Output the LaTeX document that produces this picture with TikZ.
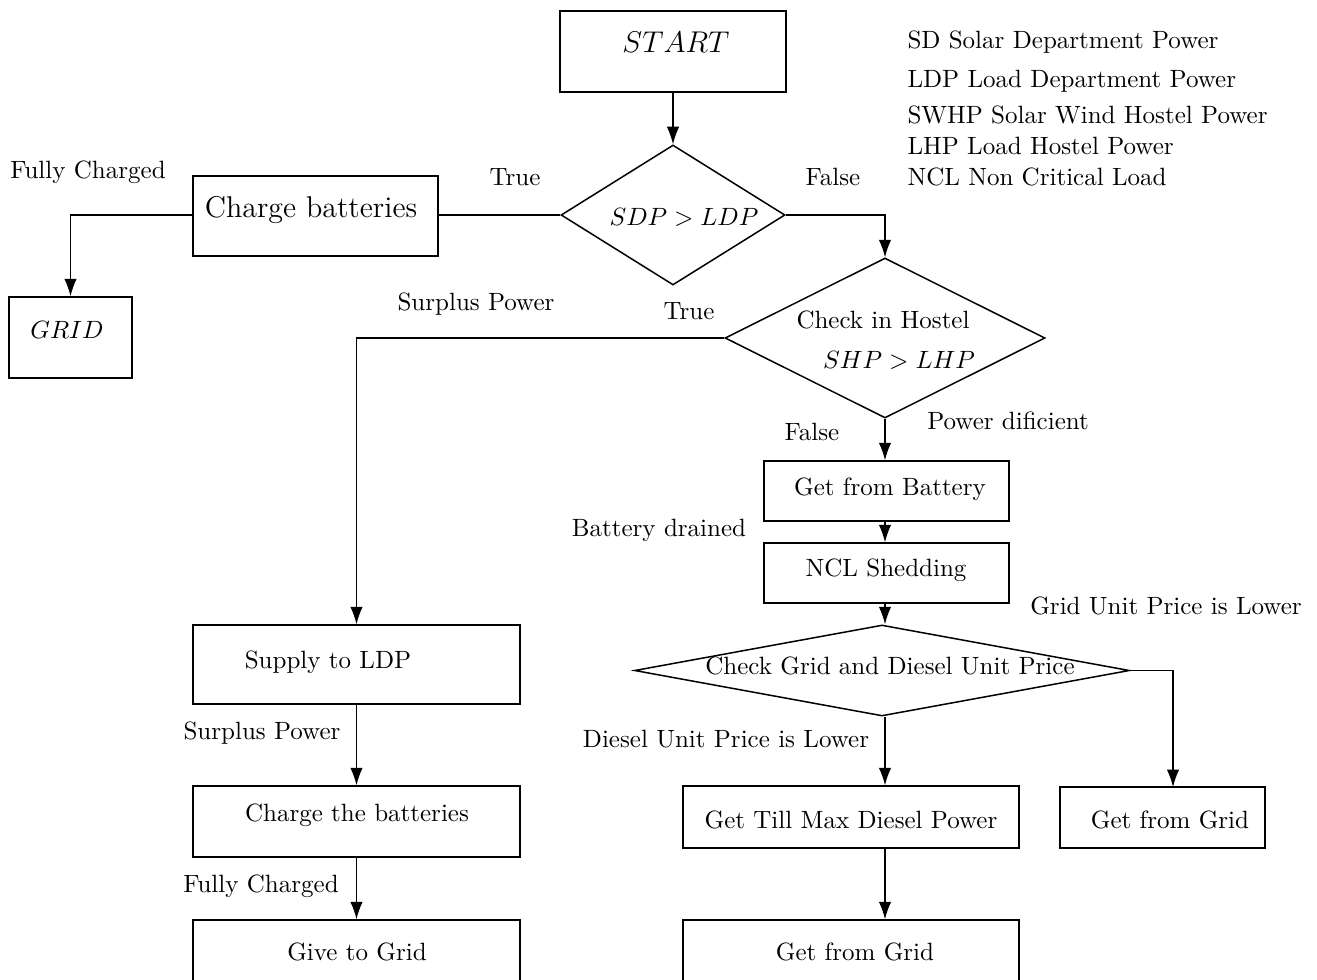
\documentclass[tikz,border=0pt]{standalone}
\usetikzlibrary{shapes.geometric,arrows.meta,calc}
\begin{document}
\begin{tikzpicture}[x=0.4pt,y=-0.4pt,
  box/.style={draw,line width=0.6pt,rectangle,inner sep=0pt},
  dia/.style={draw,line width=0.6pt,diamond,inner sep=0pt},
  conn/.style={line width=0.5pt},
  arr/.style={line width=0.5pt,-{Latex[length=7pt,width=5pt]}},
  lbl/.style={inner sep=0pt,font=\normalsize}]
\useasboundingbox (0,0) rectangle (1317,979);
% boxes
\node[box,minimum width=90.4pt,minimum height=32.4pt] (start) at (673,51.5) {};
\node[dia,minimum width=89.6pt,minimum height=56pt] (d1) at (673,215) {};
\node[box,minimum width=98pt,minimum height=32pt] (cb) at (315.5,216) {};
\node[box,minimum width=49.2pt,minimum height=32.4pt] (grid) at (70.5,337.5) {};
\node[dia,minimum width=128pt,minimum height=64pt] (d2) at (885,338) {};
\node[box,minimum width=130.8pt,minimum height=31.6pt] (supply) at (356.5,664.5) {};
\node[box,minimum width=130.8pt,minimum height=28.4pt] (chg) at (356.5,821.5) {};
\node[box,minimum width=130.8pt,minimum height=28pt] (give) at (356.5,955) {};
\node[box,minimum width=98pt,minimum height=24pt] (bat) at (886.5,491) {};
\node[box,minimum width=98pt,minimum height=24pt] (ncl) at (886.5,573) {};
\node[dia,minimum width=198pt,minimum height=36.4pt] (d3) at (882,670.5) {};
\node[box,minimum width=134.4pt,minimum height=24.8pt] (till) at (851,817) {};
\node[box,minimum width=82pt,minimum height=24.4pt] (gridR) at (1162.5,817.5) {};
\node[box,minimum width=134.4pt,minimum height=28pt] (gridB) at (851,955) {};
\coordinate (gRtop) at (1173,787);
% texts inside shapes
\node[lbl,font=\fontsize{13}{15}\selectfont] (tstart) at (676,42) {$START$};
\node[lbl] (td1) at (684,217) {$SDP>LDP$};
\node[lbl,font=\large] (tcb) at (311,210) {Charge batteries};
\node[lbl] (tgrid) at (67,330) {$GRID$};
\node[lbl] (td2a) at (883,320) {Check in Hostel};
\node[lbl] (td2b) at (899,360) {$SHP>LHP$};
\node[lbl] (tsup) at (328,662) {Supply to LDP};
\node[lbl] (tchg) at (357,815) {Charge the batteries};
\node[lbl] (tgive) at (357,952) {Give to Grid};
\node[lbl] (tbat) at (890,489) {Get from Battery};
\node[lbl] (tncl) at (886,570) {NCL Shedding};
\node[lbl] (td3) at (890,666) {Check Grid and Diesel Unit Price};
\node[lbl] (ttill) at (851,820) {Get Till Max Diesel Power};
\node[lbl] (tgr) at (1170,820) {Get from Grid};
\node[lbl] (tgb) at (855,952) {Get from Grid};
% labels
\node[lbl] (l1) at (88,172) {Fully Charged};
\node[lbl] (l2) at (515,177) {True};
\node[lbl] (l3) at (833,177) {False};
\node[lbl] (l4) at (689,311) {True};
\node[lbl] (l5) at (476,304) {Surplus Power};
\node[lbl] (l6) at (812,432) {False};
\node[lbl] (l7) at (1008,421) {Power dificient};
\node[lbl] (l8) at (659,530) {Battery drained};
\node[lbl] (l9) at (1166,606) {Grid Unit Price is Lower};
\node[lbl] (l10) at (726,739) {Diesel Unit Price is Lower};
\node[lbl] (l11) at (262,733) {Surplus Power};
\node[lbl] (l12) at (261,886) {Fully Charged};
% legend
\node[lbl,anchor=west] (g1) at (907,42) {SD Solar Department Power};
\node[lbl,anchor=west] (g2) at (907,81) {LDP Load Department Power};
\node[lbl,anchor=west] (g3) at (907,115) {SWHP Solar Wind Hostel Power};
\node[lbl,anchor=west] (g4) at (907,146) {LHP Load Hostel Power};
\node[lbl,anchor=west] (g5) at (907,177) {NCL Non Critical Load};
% connectors
\draw[arr] (start.south) -- (d1.north);
\draw[conn] (d1.west) -- (cb.east |- d1.west);
\draw[arr] (cb.west |- d1.west) -| (grid.north);
\draw[arr] (d1.east) -| (d2.north);
\draw[arr] (d2.west) -| (supply.north);
\draw[arr] (supply.south) -- (chg.north);
\draw[arr] (chg.south) -- (give.north);
\draw[arr] (d2.south) -- (d2.south |- bat.north);
\draw[arr] (d2.south |- bat.south) -- (d2.south |- ncl.north);
\draw[arr] (d2.south |- ncl.south) -- (d3.north -| d2.south);
\draw[arr] (d3.east) -| (gRtop);
\draw[arr] (d3.south -| d2.south) -- (d2.south |- till.north);
\draw[arr] (d2.south |- till.south) -- (d2.south |- gridB.north);
\end{tikzpicture}
\end{document}
